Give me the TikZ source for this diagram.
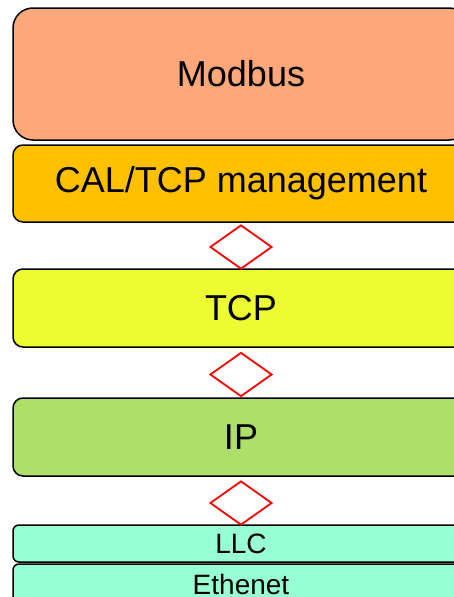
\documentclass[tikz,border=0pt]{standalone}
\usepackage{fontspec}
\setmainfont{Liberation Sans}
\usetikzlibrary{shapes.geometric}
\definecolor{modbusfill}{RGB}{252,168,122}
\definecolor{calfill}{RGB}{255,192,0}
\definecolor{tcpfill}{RGB}{236,252,48}
\definecolor{ipfill}{RGB}{173,223,106}
\definecolor{linkfill}{RGB}{152,255,212}
\tikzset{
  layer/.style={draw=black, line width=1.5pt, minimum width=456pt, inner sep=0pt,
    anchor=center, font=\fontsize{36}{40}\selectfont},
  thinlayer/.style={layer, rounded corners=6pt, font=\fontsize{28}{32}\selectfont},
  joint/.style={diamond, draw=red, line width=1.8pt, fill=white, inner sep=0pt,
    minimum width=62pt, minimum height=44pt}
}
\begin{document}
\begin{tikzpicture}[x=1pt,y=-1pt]
  \useasboundingbox (0,0) rectangle (454,597);
  \clip (0,0) rectangle (454,597);
  % protocol layers, top to bottom
  \node[layer, fill=modbusfill, rounded corners=20pt, minimum height=132pt] (modbus) at (241,74) {Modbus};
  \node[layer, fill=calfill, rounded corners=10pt, minimum height=77pt] (cal) at (241,183.5) {CAL/TCP management};
  \node[layer, fill=tcpfill, rounded corners=10pt, minimum height=78pt] (tcp) at (241,308) {TCP};
  \node[layer, fill=ipfill, rounded corners=10pt, minimum height=78pt] (ip) at (241,437) {IP};
  \node[thinlayer, fill=linkfill, minimum height=37pt] (llc) at (241,543.5) {LLC};
  \node[thinlayer, fill=linkfill, minimum height=40pt] (eth) at (241,584) {Ethenet};
  % joints between adjacent layers
  \node[joint] (j1) at (241,247) {};
  \node[joint] (j2) at (241,374.5) {};
  \node[joint] (j3) at (241,503) {};
\end{tikzpicture}
\end{document}
